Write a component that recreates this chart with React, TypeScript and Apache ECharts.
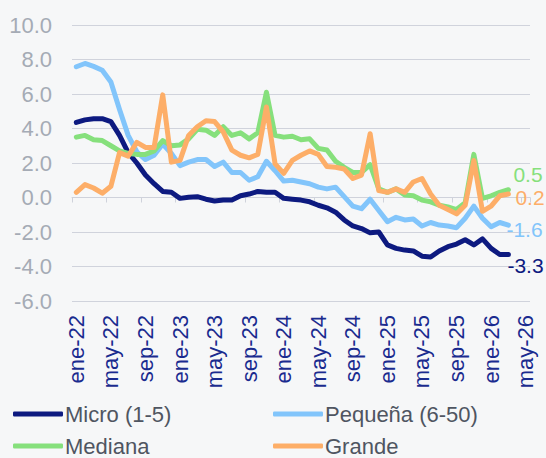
import React, { useEffect, useRef } from "react";
import * as echarts from "echarts";

const MONTHS = ["ene", "feb", "mar", "abr", "may", "jun", "jul", "ago", "sep", "oct", "nov", "dic"];
const YEARS = ["22", "23", "24", "25", "26"];
// categories ene-22 .. may-26
const categories: string[] = [];
YEARS.forEach((y) => MONTHS.forEach((m) => categories.push(`${m}-${y}`)));
categories.splice(53);

const micro = [4.35, 4.5, 4.57, 4.57, 4.4, 3.6, 2.6, 2.0, 1.3, 0.8, 0.35, 0.3, -0.05, 0.02, 0.05, -0.1, -0.2, -0.15, -0.15, 0.1, 0.2, 0.35, 0.3, 0.3, -0.05, -0.1, -0.15, -0.25, -0.45, -0.6, -0.85, -1.3, -1.65, -1.8, -2.05, -2.0, -2.75, -2.95, -3.05, -3.1, -3.4, -3.45, -3.1, -2.85, -2.7, -2.45, -2.75, -2.4, -2.95, -3.3, -3.3];
const pequena = [7.58, 7.77, 7.6, 7.38, 6.7, 5.1, 3.6, 2.65, 2.2, 2.45, 3.1, 2.55, 1.85, 2.05, 2.2, 2.2, 1.8, 2.05, 1.45, 1.45, 1.0, 1.2, 2.1, 1.55, 0.95, 1.0, 0.9, 0.8, 0.6, 0.5, 0.6, 0.05, -0.5, -0.65, -0.1, -0.75, -1.4, -1.15, -1.3, -1.25, -1.65, -1.45, -1.6, -1.65, -1.75, -1.2, -0.5, -1.2, -1.7, -1.45, -1.6];
const mediana = [3.5, 3.6, 3.35, 3.3, 3.0, 2.7, 2.55, 2.5, 2.5, 2.7, 3.3, 3.0, 3.05, 3.4, 3.95, 3.9, 3.6, 4.1, 3.6, 3.75, 3.4, 3.75, 6.1, 3.6, 3.5, 3.55, 3.35, 3.4, 2.85, 2.75, 2.1, 1.75, 1.45, 1.45, 1.9, 0.5, 0.3, 0.5, 0.15, 0.1, -0.15, -0.25, -0.45, -0.55, -0.7, -0.3, 2.5, -0.05, 0.1, 0.3, 0.45];
const grande = [0.3, 0.75, 0.55, 0.25, 0.65, 2.6, 2.4, 3.2, 2.9, 2.9, 5.95, 2.05, 2.15, 3.6, 4.1, 4.45, 4.4, 3.8, 2.75, 2.45, 2.3, 2.5, 5.25, 1.95, 1.4, 2.15, 2.45, 2.7, 2.5, 1.8, 1.75, 1.65, 1.1, 1.3, 3.7, 0.4, 0.3, 0.5, 0.3, 0.9, 1.1, 0.2, -0.45, -0.7, -0.95, -0.45, 2.15, -0.8, -0.5, 0.1, 0.2];

const seriesNames = ["Micro (1-5)", "Pequeña (6-50)", "Mediana", "Grande"];
const seriesData = [micro, pequena, mediana, grande];
const colors = ["#0d1a80", "#82c5fb", "#86e07c", "#fdae68"];
const endOffsets: [number, number][] = [[-9, 11], [-10, 4], [-3, -15], [-1, 3]];

const FONT = "'Liberation Sans', Arial, sans-serif";

export default function App() {
  const ref = useRef<HTMLDivElement>(null);
  useEffect(() => {
    document.body.style.margin = "0";
    if (!ref.current) return;
    const chart = echarts.init(ref.current, undefined, { renderer: "svg" });
    const legendPos = [
      { left: 13, top: 403 },
      { left: 273, top: 403 },
      { left: 13, top: 435 },
      { left: 273, top: 435 },
    ];
    chart.setOption({
      animation: false,
      backgroundColor: "#f6f7f8",
      textStyle: { fontFamily: FONT },
      grid: { left: 72, right: 16, top: 25, bottom: 157, containLabel: false },
      legend: seriesNames.map((n, i) => ({
        data: [n],
        left: legendPos[i].left,
        top: legendPos[i].top,
        padding: 0,
        icon: "roundRect",
        itemWidth: 50,
        itemHeight: 5,
        selectedMode: false,
        textStyle: { fontSize: 22, color: "#4f5561", fontFamily: FONT, padding: [0, 0, 0, -3] },
      })),
      xAxis: [
        {
          type: "category",
          data: categories,
          boundaryGap: true,
          position: "bottom",
          axisLine: { show: false, onZero: false },
          axisTick: { show: false },
          splitLine: { show: false },
          axisLabel: { interval: 3, rotate: 90, fontSize: 22, color: "#1a2b8f", margin: 14, fontFamily: FONT },
        },
        {
          type: "category",
          data: categories,
          boundaryGap: true,
          position: "bottom",
          axisLine: { show: true, onZero: true, lineStyle: { color: "#cfd2db", width: 1 } },
          axisTick: { show: true, interval: 3, length: 5, lineStyle: { color: "#cfd2db", width: 1 } },
          axisLabel: { show: false },
          splitLine: { show: false },
        },
      ],
      yAxis: {
        type: "value",
        min: -6,
        max: 10,
        interval: 2,
        axisLine: { show: false },
        axisTick: { show: false },
        axisLabel: {
          formatter: (v: number) => v.toFixed(1),
          color: "#a5abb5",
          fontSize: 22,
          margin: 20,
          fontFamily: FONT,
        },
        splitLine: { lineStyle: { color: "#d0d3dc", width: 1 } },
      },
      series: seriesNames.map((n, i) => ({
        name: n,
        type: "line",
        xAxisIndex: 0,
        data: seriesData[i],
        symbol: "none",
        color: colors[i],
        lineStyle: { width: 5, color: colors[i], cap: "round", join: "round" },
        endLabel: {
          show: true,
          formatter: (p: any) => Number(p.value).toFixed(1),
          color: colors[i],
          fontSize: 21,
          fontFamily: FONT,
          offset: endOffsets[i],
        },
      })),
    });
    return () => chart.dispose();
  }, []);
  return <div ref={ref} style={{ position: "absolute", left: 0, top: 0, width: 546, height: 458 }} />;
}
